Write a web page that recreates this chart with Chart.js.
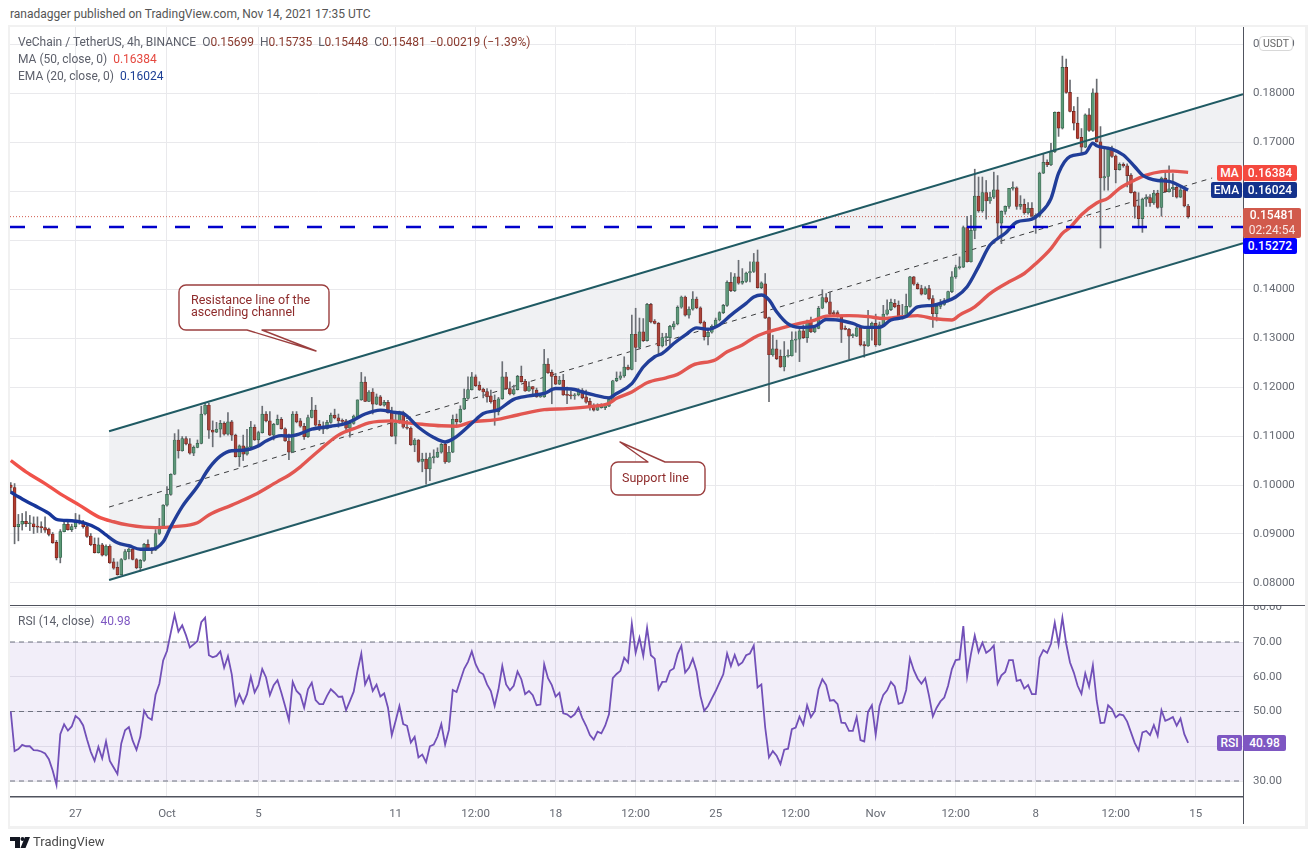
<!DOCTYPE html>
<html>
<head>
<meta charset="utf-8">
<title>VeChain / TetherUS</title>
<script src="https://cdn.jsdelivr.net/npm/chart.js@4"></script>
<style>
    html, body { margin: 0; padding: 0; background: #fff; }
    body { width: 1315px; height: 860px; position: relative; overflow: hidden; font-family: Roboto, sans-serif; color: #555; }
    canvas { position: absolute; display: block; }
    .abs { position: absolute; white-space: pre; }
    #frame { position: absolute; left: 8px; top: 25px; width: 1295px; height: 799px; border: 2px solid #f1f1f1; border-bottom-width: 3px; border-right-width: 3px; }
    .sep { position: absolute; background: #50535e; }
    .legend { font-size: 12px; color: #5d606b; left: 18px; }
    .tag { position: absolute; color: #fff; font-size: 12px; font-weight: 500; text-align: center; border-radius: 2px; }
    .note { position: absolute; color: #8e2b2b; font-size: 12.5px; line-height: 12px; white-space: pre; }
</style>
</head>
<body>
<div id="frame"></div>
<canvas id="priceChart" width="1295" height="578" style="left:10px;top:27px"></canvas>
<canvas id="rsiChart" width="1295" height="219" style="left:10px;top:605px"></canvas>

<div class="sep" style="left:10px;top:604.5px;width:1295px;height:1.5px"></div>
<div class="sep" style="left:1242.5px;top:27px;width:1.5px;height:797px"></div>

<div class="abs" style="left:10px;top:7px;font-size:12px;color:#555">ranadagger published on TradingView.com, Nov 14, 2021 17:35 UTC</div>

<div class="abs legend" style="top:35px">VeChain / TetherUS, 4h, BINANCE  O<span style="color:#8a3a2e">0.15699</span>  H<span style="color:#8a3a2e">0.15735</span>  L<span style="color:#8a3a2e">0.15448</span>  C<span style="color:#8a3a2e">0.15481</span> <span style="color:#8a3a2e;margin-left:1px">−0.00219 (−1.39%)</span></div>
<div class="abs legend" style="top:52px">MA (50, close, 0)  <span style="color:#e5483f">0.16384</span></div>
<div class="abs legend" style="top:69px">EMA (20, close, 0)  <span style="color:#1c3f95">0.16024</span></div>
<div class="abs legend" style="top:614px">RSI (14, close)  <span style="color:#7e57c2">40.98</span></div>

<div class="abs" style="left:1259px;top:36px;width:32px;height:13px;background:#fff;border:1px solid #d8d8d8;border-radius:4px;font-size:10.5px;line-height:13px;text-align:center;color:#666">USDT</div>

<div class="tag" style="left:1217px;top:165px;width:25px;height:16px;line-height:16px;background:#f4493f">MA</div>
<div class="tag" style="left:1243px;top:165px;width:54px;height:16px;line-height:16px;background:#f4493f">0.16384</div>
<div class="tag" style="left:1211px;top:182px;width:31px;height:16px;line-height:16px;background:#14328c">EMA</div>
<div class="tag" style="left:1243px;top:182px;width:54px;height:16px;line-height:16px;background:#14328c">0.16024</div>
<div class="tag" style="left:1243px;top:208px;width:58px;height:30px;line-height:15px;background:#d15a4c">0.15481<br><span style="font-weight:400;opacity:.85">02:24:54</span></div>
<div class="tag" style="left:1243px;top:238px;width:54px;height:16px;line-height:16px;background:#0000ff">0.15272</div>
<div class="tag" style="left:1217px;top:735px;width:25px;height:16px;line-height:16px;background:#7e57c2">RSI</div>
<div class="tag" style="left:1243px;top:735px;width:43px;height:16px;line-height:16px;background:#7e57c2">40.98</div>

<svg style="position:absolute;left:0;top:0;pointer-events:none" width="1315" height="860">
    <g fill="#fff" stroke="#9b3f3f" stroke-width="1.4" stroke-linejoin="round">
        <path d="M186 285H322a7 7 0 0 1 7 7V323a7 7 0 0 1-7 7H262L316 351L247 330H186a7 7 0 0 1-7-7V292a7 7 0 0 1 7-7Z"/>
        <path d="M618 462H648L620 442L665 462H698a7 7 0 0 1 7 7V488a7 7 0 0 1-7 7H618a7 7 0 0 1-7-7V469a7 7 0 0 1 7-7Z"/>
    </g>
    <g fill="#131722">
        <path d="M10 837H20V848H15V841H10Z"/>
        <circle cx="22.5" cy="839" r="2"/>
        <path d="M25 837H30L25.5 848H20.5Z"/>
    </g>
</svg>
<div class="note" style="left:191px;top:294px">Resistance line of the
ascending channel</div>
<div class="note" style="left:622px;top:472px">Support line</div>
<div class="abs" style="left:33px;top:834px;font-size:13px;color:#4a4a4a">TradingView</div>

<script>
// candle data, 4h bars, first row starts at index -1
const firstIndex = -1;
const opens = [
    .1000,.0995,.0915,.0920,.0926,.0921,.0921,.0915,.0915,.0913,
    .0910,.0900,.0883,.0852,.0905,.0920,.0909,.0915,.0927,.0923,
    .0915,.0896,.0879,.0862,.0878,.0857,.0875,.0843,.0832,.0817,
    .0848,.0864,.0869,.0848,.0831,.0846,.0879,.0867,.0867,.0901,
    .0916,.0959,.0981,.1022,.1092,.1070,.1095,.1084,.1065,.1077,
    .1085,.1145,.1163,.1112,.1108,.1114,.1126,.1104,.1129,.1102,
    .1058,.1080,.1063,.1078,.1118,.1092,.1107,.1145,.1131,.1102,
    .1124,.1134,.1115,.1090,.1067,.1145,.1131,.1120,.1099,.1138,
    .1153,.1124,.1114,.1115,.1128,.1143,.1137,.1131,.1131,.1116,
    .1126,.1139,.1174,.1210,.1171,.1190,.1165,.1180,.1163,.1169,
    .1150,.1100,.1127,.1148,.1118,.1116,.1082,.1092,.1048,.1053,
    .1033,.1056,.1057,.1067,.1083,.1047,.1067,.1134,.1129,.1155,
    .1177,.1195,.1221,.1204,.1196,.1191,.1182,.1173,.1150,.1176,
    .1221,.1197,.1186,.1195,.1222,.1212,.1192,.1201,.1194,.1180,
    .1180,.1247,.1230,.1222,.1206,.1214,.1184,.1183,.1182,.1184,
    .1193,.1180,.1171,.1161,.1153,.1158,.1158,.1161,.1173,.1213,
    .1218,.1223,.1241,.1236,.1308,.1281,.1313,.1295,.1369,.1335,
    .1330,.1284,.1301,.1301,.1323,.1329,.1363,.1384,.1347,.1359,
    .1380,.1362,.1333,.1303,.1312,.1324,.1337,.1352,.1367,.1414,
    .1397,.1425,.1412,.1416,.1433,.1436,.1456,.1403,.1411,.1342,
    .1266,.1278,.1263,.1241,.1263,.1264,.1296,.1298,.1315,.1301,
    .1333,.1313,.1320,.1361,.1383,.1374,.1352,.1352,.1345,.1319,
    .1318,.1305,.1304,.1321,.1287,.1284,.1321,.1330,.1286,.1327,
    .1349,.1358,.1371,.1367,.1342,.1344,.1365,.1425,.1410,.1401,
    .1390,.1401,.1381,.1350,.1365,.1369,.1376,.1395,.1425,.1444,
    .1445,.1526,.1456,.1520,.1590,.1560,.1597,.1580,.1588,.1603,
    .1535,.1559,.1569,.1606,.1607,.1569,.1573,.1556,.1565,.1549,
    .1549,.1637,.1659,.1654,.1681,.1761,.1729,.1853,.1802,.1763,
    .1739,.1710,.1690,.1756,.1724,.1801,.1701,.1627,.1630,.1686,
    .1672,.1644,.1655,.1652,.1633,.1598,.1570,.1544,.1584,.1587,
    .1576,.1596,.1567,.1627,.1599,.1605,.1608,.1588,.1603,.15699
];
const highs = [
    .1005,.1003,.0940,.0942,.0946,.0938,.0935,.0935,.0925,.0935,
    .0912,.0903,.0887,.0909,.0925,.0930,.0920,.0942,.0939,.0928,
    .0920,.0901,.0892,.0892,.0881,.0878,.0878,.0850,.0843,.0850,
    .0868,.0871,.0874,.0850,.0848,.0881,.0888,.0872,.0909,.0932,
    .0960,.0997,.1023,.1105,.1113,.1099,.1099,.1095,.1080,.1092,
    .1161,.1167,.1167,.1131,.1128,.1132,.1129,.1148,.1132,.1104,
    .1082,.1102,.1114,.1130,.1123,.1110,.1161,.1150,.1150,.1126,
    .1143,.1138,.1117,.1104,.1150,.1150,.1136,.1126,.1143,.1179,
    .1163,.1132,.1129,.1132,.1147,.1155,.1145,.1135,.1134,.1132,
    .1143,.1174,.1230,.1221,.1193,.1197,.1186,.1183,.1173,.1173,
    .1159,.1149,.1151,.1151,.1132,.1119,.1095,.1093,.1065,.1065,
    .1065,.1072,.1076,.1085,.1087,.1079,.1143,.1145,.1162,.1196,
    .1221,.1230,.1225,.1211,.1198,.1197,.1194,.1184,.1179,.1252,
    .1230,.1211,.1204,.1224,.1243,.1216,.1211,.1201,.1198,.1186,
    .1277,.1258,.1235,.1228,.1222,.1226,.1200,.1192,.1187,.1197,
    .1197,.1194,.1177,.1166,.1166,.1166,.1166,.1180,.1214,.1231,
    .1231,.1262,.1245,.1347,.1361,.1341,.1340,.1371,.1371,.1338,
    .1332,.1310,.1310,.1326,.1334,.1366,.1386,.1386,.1364,.1395,
    .1384,.1364,.1335,.1316,.1327,.1341,.1354,.1369,.1417,.1434,
    .1432,.1459,.1442,.1435,.1456,.1473,.1480,.1415,.1432,.1343,
    .1306,.1296,.1276,.1293,.1276,.1313,.1313,.1319,.1327,.1337,
    .1343,.1326,.1365,.1399,.1391,.1394,.1356,.1356,.1347,.1325,
    .1320,.1309,.1325,.1323,.1293,.1357,.1333,.1349,.1333,.1367,
    .1378,.1380,.1379,.1376,.1369,.1390,.1426,.1426,.1413,.1408,
    .1405,.1408,.1387,.1369,.1379,.1381,.1396,.1436,.1449,.1466,
    .1529,.1549,.1551,.1645,.1629,.1629,.1622,.1598,.1639,.1632,
    .1560,.1570,.1606,.1619,.1609,.1591,.1584,.1577,.1577,.1554,
    .1639,.1677,.1664,.1698,.1762,.1762,.1876,.1870,.1827,.1773,
    .1792,.1728,.1758,.1769,.1809,.1829,.1732,.1688,.1690,.1692,
    .1674,.1658,.1658,.1656,.1636,.1600,.1597,.1586,.1593,.1593,
    .1602,.1602,.1629,.1640,.1652,.1636,.1611,.1610,.1604,.15735
];
const lows = [
    .0985,.0880,.0886,.0908,.0915,.0907,.0901,.0903,.0903,.0903,
    .0896,.0881,.0847,.0841,.0904,.0908,.0905,.0911,.0920,.0912,
    .0893,.0876,.0861,.0861,.0855,.0855,.0840,.0828,.0816,.0816,
    .0847,.0849,.0847,.0829,.0824,.0844,.0866,.0860,.0866,.0899,
    .0915,.0957,.0979,.1021,.1055,.1069,.1082,.1063,.1060,.1076,
    .1084,.1143,.1095,.1078,.1107,.1098,.1102,.1102,.1091,.1057,
    .1038,.1050,.1061,.1076,.1091,.1080,.1106,.1129,.1101,.1092,
    .1123,.1114,.1089,.1052,.1066,.1127,.1118,.1093,.1097,.1137,
    .1120,.1111,.1105,.1114,.1126,.1135,.1118,.1125,.1112,.1098,
    .1124,.1137,.1173,.1170,.1170,.1145,.1164,.1162,.1161,.1147,
    .1099,.1084,.1126,.1116,.1114,.1081,.1068,.1046,.1027,.1002,
    .1009,.1045,.1056,.1065,.1044,.1046,.1066,.1123,.1127,.1154,
    .1176,.1194,.1201,.1193,.1178,.1169,.1167,.1122,.1143,.1175,
    .1195,.1184,.1184,.1194,.1210,.1191,.1191,.1186,.1179,.1179,
    .1179,.1228,.1166,.1205,.1205,.1183,.1166,.1176,.1175,.1182,
    .1176,.1167,.1153,.1151,.1152,.1157,.1154,.1160,.1172,.1211,
    .1215,.1220,.1235,.1235,.1252,.1278,.1293,.1294,.1331,.1329,
    .1265,.1282,.1285,.1285,.1318,.1327,.1361,.1345,.1341,.1357,
    .1360,.1329,.1296,.1286,.1310,.1322,.1335,.1350,.1365,.1395,
    .1395,.1410,.1410,.1414,.1415,.1434,.1402,.1401,.1340,.1170,
    .1263,.1256,.1240,.1233,.1261,.1263,.1271,.1252,.1299,.1291,
    .1311,.1311,.1319,.1360,.1372,.1347,.1347,.1343,.1291,.1317,
    .1257,.1301,.1303,.1284,.1261,.1283,.1296,.1283,.1285,.1324,
    .1347,.1356,.1362,.1341,.1339,.1342,.1363,.1408,.1400,.1388,
    .1389,.1378,.1322,.1335,.1360,.1367,.1374,.1393,.1422,.1441,
    .1444,.1455,.1455,.1503,.1557,.1557,.1543,.1575,.1585,.1503,
    .1493,.1553,.1565,.1602,.1563,.1563,.1553,.1553,.1547,.1514,
    .1547,.1636,.1650,.1652,.1679,.1712,.1727,.1800,.1762,.1725,
    .1707,.1678,.1689,.1722,.1722,.1700,.1484,.1602,.1602,.1669,
    .1617,.1643,.1649,.1609,.1596,.1545,.1529,.1516,.1569,.1569,
    .1573,.1565,.1549,.1598,.1598,.1589,.1586,.1587,.1568,.15448
];
const closes = [
    .0995,.0915,.0920,.0926,.0921,.0921,.0915,.0914,.0913,.0908,
    .0899,.0882,.0851,.0905,.0920,.0909,.0915,.0927,.0923,.0915,
    .0895,.0878,.0862,.0878,.0857,.0875,.0841,.0830,.0817,.0848,
    .0864,.0869,.0848,.0831,.0846,.0879,.0867,.0866,.0901,.0916,
    .0959,.0981,.1022,.1092,.1070,.1095,.1084,.1065,.1077,.1085,
    .1145,.1163,.1112,.1108,.1114,.1126,.1104,.1129,.1102,.1058,
    .1080,.1063,.1078,.1118,.1092,.1107,.1145,.1131,.1102,.1124,
    .1134,.1115,.1090,.1067,.1145,.1129,.1120,.1099,.1138,.1153,
    .1122,.1114,.1115,.1128,.1143,.1137,.1131,.1130,.1116,.1126,
    .1141,.1174,.1210,.1171,.1190,.1165,.1180,.1163,.1169,.1148,
    .1100,.1127,.1148,.1118,.1116,.1082,.1092,.1048,.1053,.1033,
    .1056,.1058,.1067,.1083,.1047,.1067,.1134,.1129,.1155,.1177,
    .1195,.1221,.1203,.1194,.1190,.1180,.1170,.1150,.1176,.1221,
    .1197,.1186,.1195,.1222,.1211,.1192,.1201,.1196,.1180,.1181,
    .1247,.1229,.1222,.1206,.1214,.1184,.1183,.1182,.1184,.1194,
    .1178,.1169,.1160,.1153,.1163,.1163,.1162,.1175,.1213,.1218,
    .1223,.1241,.1236,.1308,.1281,.1313,.1295,.1369,.1333,.1330,
    .1284,.1301,.1301,.1324,.1329,.1363,.1384,.1347,.1359,.1380,
    .1362,.1331,.1303,.1312,.1324,.1337,.1352,.1367,.1414,.1397,
    .1425,.1412,.1416,.1433,.1436,.1456,.1403,.1413,.1341,.1266,
    .1278,.1258,.1241,.1263,.1265,.1296,.1298,.1315,.1301,.1335,
    .1313,.1321,.1361,.1383,.1374,.1349,.1349,.1344,.1318,.1318,
    .1304,.1305,.1321,.1286,.1284,.1321,.1330,.1286,.1327,.1349,
    .1358,.1373,.1364,.1342,.1344,.1365,.1425,.1410,.1401,.1390,
    .1401,.1380,.1350,.1365,.1369,.1376,.1395,.1425,.1444,.1445,
    .1526,.1456,.1520,.1590,.1560,.1597,.1580,.1588,.1603,.1535,
    .1559,.1569,.1606,.1607,.1569,.1573,.1556,.1565,.1549,.1549,
    .1637,.1659,.1654,.1681,.1761,.1729,.1853,.1802,.1763,.1739,
    .1708,.1690,.1756,.1724,.1801,.1701,.1627,.1630,.1686,.1671,
    .1644,.1655,.1652,.1632,.1597,.1569,.1544,.1584,.1587,.1576,
    .1596,.1567,.1627,.1599,.1605,.1608,.1588,.1603,.1570,.15481
];
const rsiValues = [
    50,38.6,39.2,40.4,40,40,38.9,38.8,38.5,37.9,
    36.3,33,28.9,43.5,46.3,44.5,45.7,48.7,47.8,46,
    42,38.4,35.8,39.8,36.5,41.4,35.8,33.9,32,40.8,
    44.6,45.5,41.6,39,42.7,50.2,48.3,47.6,54.8,58,
    64.7,67.4,72.7,77.8,73,74.8,71.9,68.4,69.3,70.3,
    75.7,77,66.2,65.6,66,67.3,62.6,65.9,60.7,52,
    55,52.4,55,60,55.5,57.6,62.2,59.8,54.7,57.6,
    59,55.5,51.6,47.5,58.5,55.9,54.8,51.1,56.4,58.3,
    53.3,52.1,52.1,54.5,56.4,55.4,54.2,54.3,50.4,53,
    55.7,61.7,66.7,57.8,60.2,55.9,57.7,54.3,55.2,51.1,
    43.2,47.3,51.6,46.4,45.9,41.1,42.7,36.8,37.6,35.4,
    40,40.5,42.8,46.4,40.5,44.7,56.2,55.6,59,62.3,
    64.3,67.3,63.6,61.4,60.7,57.8,55.9,51.6,56.4,63.1,
    57.8,56.1,57.4,61.5,59.3,55,55.9,54.7,51.8,52,
    63.6,59.6,57.6,54.3,55.4,49.5,49.2,48.3,49.2,51.1,
    48.1,45.9,43.2,41.9,44.2,43.7,45.9,49.2,59.6,60.8,
    61.7,65.5,64.1,75.3,66.9,71.2,66,74.1,66.2,65.2,
    56.4,58.5,58.6,61.7,62.4,66.5,68.9,61.2,62.6,65.2,
    61.5,54.5,50.2,51.6,53.8,55.9,58.3,60.7,66.7,63.1,
    66.3,63.3,64.1,66.2,66.7,69,56.9,57.8,45.4,36.8,
    38.6,37.3,34.9,39,39.3,44.9,45.4,48.5,46.2,51.8,
    48.4,50.1,56.4,59.3,57.6,53.1,53.3,52.1,46.8,46.7,
    44.4,44.4,48.4,41.8,41.4,49.9,51.8,43.3,51.6,54.8,
    56.1,58.5,57.2,52.2,52.6,56.2,65.3,61.9,59.5,58,
    59.6,54.5,48.6,51.1,52.9,54,57.4,62.2,64.8,65,
    74.6,60,66.5,71.9,67.1,69.8,66.9,67.7,69,58,
    60.4,61.4,64.8,64.8,58.8,59.1,56.6,57.6,55,55,
    65.5,67.7,66.9,69.5,75.6,69.3,77,69.5,64.1,61.2,
    57.4,55.1,61,57.2,63.3,53.1,46.7,46.8,51.8,50.7,
    48.3,49.2,48.9,47.1,44,40.9,38.8,44,44.4,43.2,
    46.1,43,50.4,47.3,47.8,48.4,45.9,48,43.5,40.98
];

// moving averages at these bar indexes
const maIndex = [-1,3,8,12,17,22,26,30,34,37,42,48,51,57,63,69,72,75,76,80,85,90,93,99,103,107,112,116,120,126,132,139,145,151,156,158,162,166,171,174,178,184,187,191,194,197,201,206,210,213,219,224,228,233,237,241,246,248,252,256,261,265,268,272,275,277,280,284,287,290,294,297,301,304,308];
const maValues = [.1050,.1027,.1003,.0982,.0959,.0935,.0925,.0918,.0914,.0913,.0915,.0923,.0939,.0959,.0980,.1007,.1020,.1037,.1044,.1071,.1102,.1118,.1127,.1131,.1127,.1124,.1121,.1120,.1129,.1133,.1143,.1154,.1156,.1160,.1167,.1177,.1190,.1209,.1219,.1226,.1245,.1256,.1272,.1286,.1301,.1311,.1320,.1330,.1337,.1345,.1346,.1344,.1340,.1344,.1346,.1340,.1337,.1347,.1364,.1391,.1415,.1432,.1452,.1483,.1514,.1526,.1552,.1576,.1586,.1606,.1623,.1633,.1640,.1641,.16384];
const emaIndex = [-1,1,5,9,11,15,18,22,24,27,30,33,36,39,41,44,48,51,54,57,60,64,66,70,72,75,78,83,87,89,92,96,100,102,106,110,113,116,120,123,127,131,135,139,142,147,149,152,156,158,162,165,168,170,173,176,179,182,185,188,192,194,196,198,200,203,206,210,213,216,220,223,227,230,234,237,241,244,247,250,253,256,260,263,267,269,272,274,277,281,283,284,288,291,294,296,300,303,308];
const emaValues = [.0986,.0976,.0959,.0942,.0930,.0927,.0923,.0910,.0898,.0882,.0876,.0869,.0869,.0884,.0915,.0956,.0997,.1034,.1059,.1070,.1071,.1080,.1090,.1101,.1100,.1105,.1114,.1120,.1126,.1133,.1145,.1153,.1148,.1146,.1118,.1097,.1088,.1099,.1126,.1146,.1154,.1175,.1182,.1187,.1197,.1195,.1190,.1184,.1178,.1187,.1207,.1241,.1262,.1269,.1289,.1306,.1321,.1318,.1327,.1347,.1371,.1384,.1388,.1378,.1354,.1329,.1322,.1324,.1338,.1337,.1330,.1322,.1322,.1337,.1344,.1364,.1367,.1374,.1384,.1405,.1446,.1490,.1514,.1537,.1543,.1554,.1585,.1637,.1671,.1678,.1698,.1693,.1686,.1674,.1650,.1633,.1622,.1620,.16024];

// channel drawn on the chart: start and end of each line
const channelIndex = [24.8, 322.4];
const channelUpper = [.1110, .1798];
const channelLower = [.0806, .1494];
const midIndex = [24.8, 314.3];
const midValues = [.0955, .1627];
const levelValue = .15272;
const lastPrice = .15481;

// axes
const priceTicks = [.08,.09,.10,.11,.12,.13,.14,.15,.16,.17,.18,.19];
const rsiTicks = [30,40,50,60,70,80];
const rsiGuides = [70,50,30];
const tickIndexes = [16,40,64,100,121,142,163,184,205,226,247,268,289,310];
const tickLabels = ['27','Oct','5','11','12:00','18','12:00','25','12:00','Nov','12:00','8','12:00','15'];

const xMin = -1.2, xMax = 322.4;
const gridColor = '#e9e9ec';
const textColor = '#666a73';
const axisFont = { family: 'Roboto', size: 11.5 };
const UP = '#5b9a76', UP_EDGE = '#2f5f47', DOWN = '#b23d30', DOWN_EDGE = '#6d1f18', WICK = '#6a6d72';

const pairs = (xs, ys) => xs.map((x, i) => ({ x: x, y: ys[i] }));
const span = v => [{ x: xMin, y: v }, { x: xMax, y: v }];
const isUp = opens.map((o, i) => closes[i] >= o);

function xAxis(showLabels) {
    return {
        type: 'linear', min: xMin, max: xMax, offset: false,
        grid: { color: gridColor, offset: false, drawTicks: false },
        border: { display: false },
        afterBuildTicks: s => { s.ticks = tickIndexes.map(v => ({ value: v })); },
        afterFit: s => { s.height = showLabels ? 27 : 0; s.paddingLeft = 0; s.paddingRight = 0; },
        ticks: {
            display: showLabels, autoSkip: false, maxRotation: 0, padding: 10,
            color: textColor, font: axisFont,
            callback: v => tickLabels[tickIndexes.indexOf(v)]
        }
    };
}

function yAxis(min, max, ticks, digits, pad) {
    return {
        type: 'linear', position: 'right', min: min, max: max,
        grid: { color: gridColor, drawTicks: false },
        border: { display: false },
        afterBuildTicks: s => { s.ticks = ticks.map(v => ({ value: v })); },
        afterFit: s => { s.width = 62; s.paddingTop = 0; s.paddingBottom = 0; },
        ticks: { padding: pad, color: textColor, font: axisFont, callback: v => v.toFixed(digits) }
    };
}

new Chart(document.getElementById('priceChart'), {
    type: 'bar',
    data: {
        datasets: [
            { type: 'line', data: pairs(channelIndex, channelUpper), borderColor: '#1f5a63', borderWidth: 2, pointRadius: 0,
              fill: '+1', backgroundColor: 'rgba(120,130,145,0.11)', order: 3 },
            { type: 'line', data: pairs(channelIndex, channelLower), borderColor: '#1f5a63', borderWidth: 2, pointRadius: 0, order: 3 },
            { type: 'line', data: pairs(midIndex, midValues), borderColor: '#333', borderWidth: 1, borderDash: [5, 5], pointRadius: 0, order: 8 },
            { type: 'line', data: span(lastPrice), borderColor: '#d15a4c', borderWidth: 1, borderDash: [1, 2], pointRadius: 0, order: 8 },
            { data: highs.map((h, i) => ({ x: firstIndex + i, y: [lows[i], h] })), backgroundColor: WICK,
              barThickness: 1, grouped: false, order: 7 },
            { data: opens.map((o, i) => ({ x: firstIndex + i, y: [o, closes[i]] })),
              backgroundColor: isUp.map(u => u ? UP : DOWN), borderColor: isUp.map(u => u ? UP_EDGE : DOWN_EDGE),
              borderWidth: 0.7, borderSkipped: false, barThickness: 3, minBarLength: 1, grouped: false, order: 6 },
            { type: 'line', data: pairs(maIndex, maValues), borderColor: '#f0524a', borderWidth: 3.4, pointRadius: 0,
              cubicInterpolationMode: 'monotone', order: 5 },
            { type: 'line', data: pairs(emaIndex, emaValues), borderColor: '#17369a', borderWidth: 3.4, pointRadius: 0,
              cubicInterpolationMode: 'monotone', order: 4 },
            { type: 'line', data: span(levelValue), borderColor: '#0000cc', borderWidth: 2.5, borderDash: [15, 18], pointRadius: 0, order: 2 }
        ]
    },
    options: {
        responsive: false, animation: false, devicePixelRatio: 1,
        layout: { padding: 0 },
        plugins: { legend: { display: false }, tooltip: { enabled: false } },
        scales: { x: xAxis(false), y: yAxis(.0755, .19354, priceTicks, 5, 10) }
    }
});

new Chart(document.getElementById('rsiChart'), {
    type: 'line',
    data: {
        datasets: [
            { data: span(70), borderWidth: 0, pointRadius: 0, fill: '+1', backgroundColor: 'rgba(126,87,194,0.1)', order: 5 },
            { data: span(30), borderWidth: 0, pointRadius: 0, order: 5 },
            ...rsiGuides.map(v => ({ data: span(v), borderColor: '#6f7280', borderWidth: 1, borderDash: [5, 4], pointRadius: 0, order: 4 })),
            { data: rsiValues.map((v, i) => ({ x: firstIndex + i, y: v })), borderColor: '#7250b8', borderWidth: 1.8, pointRadius: 0, order: 1 }
        ]
    },
    options: {
        responsive: false, animation: false, devicePixelRatio: 1,
        layout: { padding: 0 },
        plugins: { legend: { display: false }, tooltip: { enabled: false } },
        scales: {
            x: Object.assign(xAxis(true), { border: { display: true, color: '#50535e', width: 1.5 } }),
            y: yAxis(25.4, 80.65, rsiTicks, 2, 10)
        }
    }
});
</script>
</body>
</html>
